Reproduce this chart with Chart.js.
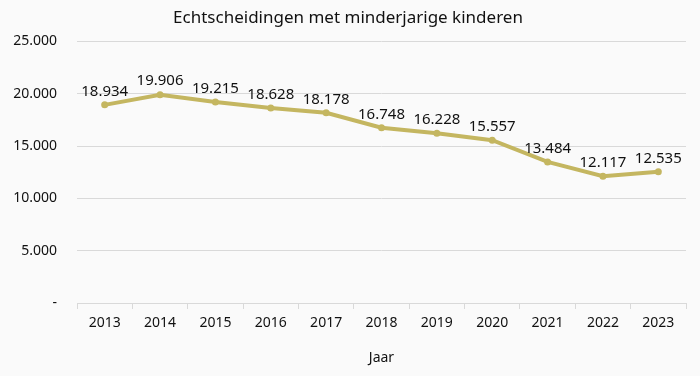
<style>
html, body { margin: 0; background: #fafafa; }
#wrap { width: 700px; height: 376px; }
</style>

<script src="https://cdn.jsdelivr.net/npm/chart.js@4"></script>

<div id="wrap"><canvas id="divorceChart"></canvas></div>

<script>
// Echtscheidingen met minderjarige kinderen, per jaar
var years = ['2013', '2014', '2015', '2016', '2017', '2018', '2019', '2020', '2021', '2022', '2023'];
var divorces = [18934, 19906, 19215, 18628, 18178, 16748, 16228, 15557, 13484, 12117, 12535];
var yTicks = [0, 5000, 10000, 15000, 20000, 25000];

var lineColor = '#c4b660';
var font = "'Noto Sans', sans-serif";

function dutchNumber(v) {
    return String(v).replace(/\B(?=(\d{3})+(?!\d))/g, '.');
}

// draws the value above each point
var valueLabels = {
    id: 'valueLabels',
    afterDatasetsDraw: function (chart) {
        var ctx = chart.ctx;
        var meta = chart.getDatasetMeta(0);
        ctx.save();
        ctx.font = '15px ' + font;
        ctx.fillStyle = '#111';
        ctx.textAlign = 'center';
        ctx.textBaseline = 'bottom';
        meta.data.forEach(function (pt, i) {
            ctx.fillText(dutchNumber(divorces[i]), pt.x, pt.y - 6);
        });
        ctx.restore();
    }
};

var ctx = document.getElementById('divorceChart').getContext('2d');
var chart = new Chart(ctx, {
    type: 'line',
    data: {
        labels: years,
        datasets: [{
            data: divorces,
            borderColor: lineColor,
            backgroundColor: lineColor,
            borderWidth: 4,
            pointRadius: 3.5,
            pointBorderWidth: 0,
            pointHoverRadius: 3.5,
            tension: 0
        }]
    },
    options: {
        responsive: true,
        maintainAspectRatio: false,
        animation: false,
        layout: { padding: { left: 10, right: 14, top: 6, bottom: 6 } },
        plugins: {
            legend: { display: false },
            tooltip: { enabled: false },
            title: {
                display: true,
                text: 'Echtscheidingen met minderjarige kinderen',
                color: '#111',
                font: { family: font, size: 17, weight: 'normal' },
                padding: { top: 2, bottom: 13 }
            }
        },
        scales: {
            x: {
                offset: true,
                afterFit: function (axis) { axis.height = 67; },
                grid: {
                    offset: true,
                    drawOnChartArea: false,
                    color: '#d9d9d9',
                    tickLength: 6
                },
                border: { color: '#d9d9d9' },
                ticks: { color: '#111', font: { family: font, size: 14 }, padding: 6 },
                title: {
                    display: true,
                    text: 'Jaar',
                    color: '#111',
                    font: { family: font, size: 14 },
                    padding: { top: 8, bottom: 4 }
                }
            },
            y: {
                min: 0,
                max: 25000,
                afterFit: function (axis) { axis.width = 67; },
                afterBuildTicks: function (axis) {
                    axis.ticks = yTicks.map(function (v) { return { value: v }; });
                },
                grid: { color: '#d9d9d9', drawTicks: false },
                border: { display: false },
                ticks: {
                    color: '#111',
                    font: { family: font, size: 14 },
                    padding: 20,
                    callback: function (v) { return v === 0 ? '-' : dutchNumber(v); }
                }
            }
        }
    },
    plugins: [valueLabels]
});
</script>
